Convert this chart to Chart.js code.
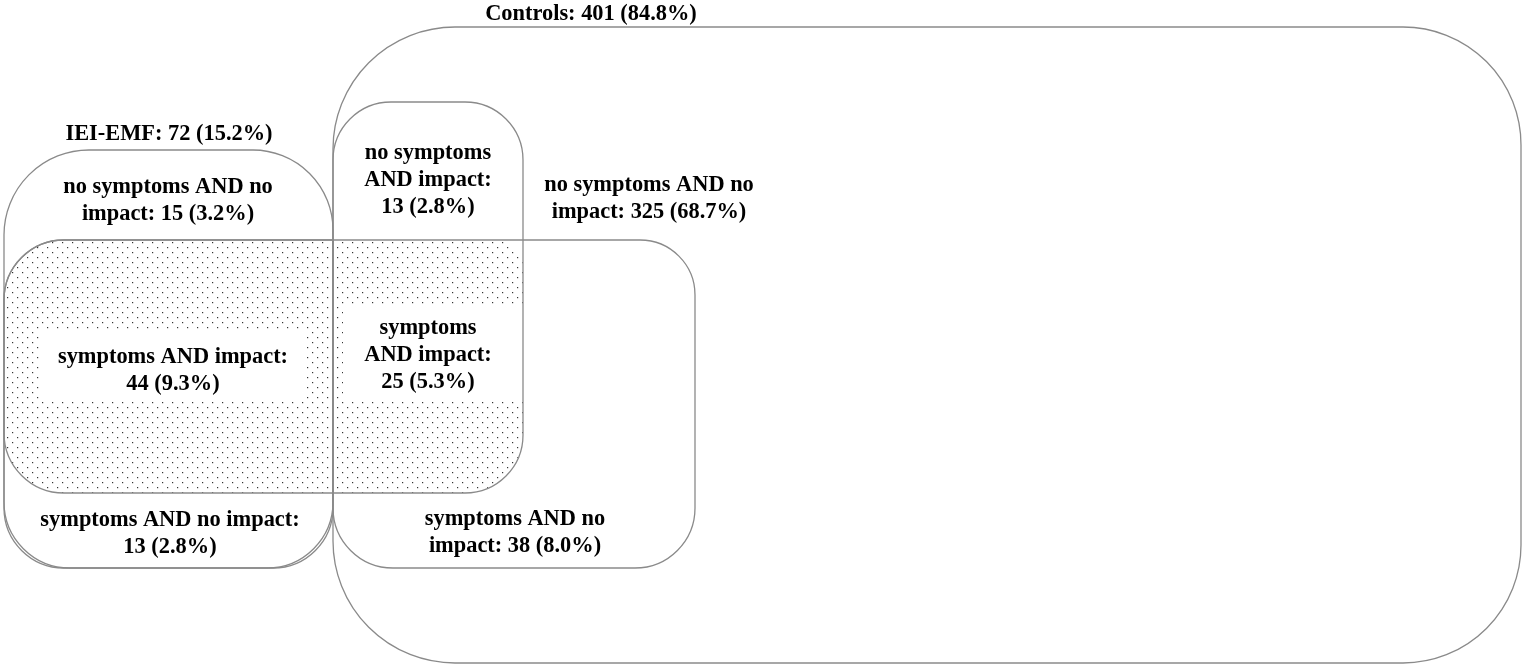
<!DOCTYPE html>
<html>
<head>
<meta charset="utf-8">
<script src="https://cdn.jsdelivr.net/npm/chart.js@4/dist/chart.umd.min.js"></script>
<style>
  html, body { margin: 0; background: #fff; }
  #wrap { width: 1524px; height: 667px; }
</style>
</head>
<body>
<div id="wrap"><canvas id="venn"></canvas></div>
<script>
// --- data ---
const groupNames = ["Controls", "IEI-EMF"];
const groupCounts = [401, 72];
const groupPcts = [84.8, 15.2];

// regions, in drawing order of their labels
const regionLines = [
  ["no symptoms AND no", "impact: {v}"],          // IEI-EMF
  ["no symptoms", "AND impact:", "{v}"],          // Controls
  ["no symptoms AND no", "impact: {v}"],          // Controls
  ["symptoms AND impact:", "{v}"],                // IEI-EMF
  ["symptoms", "AND impact:", "{v}"],             // Controls
  ["symptoms AND no impact:", "{v}"],             // IEI-EMF
  ["symptoms AND no", "impact: {v}"]              // Controls
];
const regionCounts = [15, 13, 325, 44, 25, 13, 38];
const regionPcts = [3.2, 2.8, 68.7, 9.3, 5.3, 2.8, 8.0];

// --- layout of the diagram (diagram units, mapped through the scales) ---
const groupAnchors = [{ x: 591, y: 14 }, { x: 169, y: 134 }];
const regionAnchors = [
  { x: 168, y: 201 }, { x: 428, y: 180 }, { x: 649, y: 199 },
  { x: 173, y: 371 }, { x: 428, y: 355 },
  { x: 170, y: 534 }, { x: 515, y: 533 }
];
// outlines: [x0, y0, x1, y1, corner radii tl, tr, br, bl]
const outlines = [
  [333, 27, 1521, 663, [122, 118, 118, 122]],   // Controls
  [4, 150, 333, 568, [85, 80, 66, 66]],         // IEI-EMF
  [333, 102, 523, 493, [58, 58, 58, 0]],        // impact (controls side)
  [4, 240, 333, 493, [60, 0, 0, 60]],           // impact (IEI side)
  [4, 240, 333, 568, [60, 0, 60, 60]],          // symptoms (IEI side)
  [333, 240, 695, 568, [0, 55, 60, 60]]         // symptoms (controls side)
];
const dotted = [4, 240, 523, 493, [60, 26, 60, 60]];
const clearBoxes = [[40, 330, 307, 402], [343, 305, 525, 400]];

const fmt = (n, p) => n + " (" + p.toFixed(1) + "%)";

function dotPattern(ctx) {
  const c = document.createElement("canvas");
  c.width = 10; c.height = 10;
  const g = c.getContext("2d");
  g.fillStyle = "#333";
  g.fillRect(2, 2, 1.2, 1.2);
  g.fillRect(7, 7, 1.2, 1.2);
  return ctx.createPattern(c, "repeat");
}

function boxPath(ctx, chart, b) {
  const x = chart.scales.x, y = chart.scales.y;
  const px0 = x.getPixelForValue(b[0]), py0 = y.getPixelForValue(b[1]);
  const px1 = x.getPixelForValue(b[2]), py1 = y.getPixelForValue(b[3]);
  const k = (x.getPixelForValue(100) - x.getPixelForValue(0)) / 100;
  ctx.beginPath();
  ctx.roundRect(px0, py0, px1 - px0, py1 - py0, (b[4] || [0]).map(r => r * k));
}

const vennPlugin = {
  id: "venn",
  beforeDatasetsDraw(chart) {
    const ctx = chart.ctx;
    ctx.save();
    boxPath(ctx, chart, dotted);
    ctx.fillStyle = dotPattern(ctx);
    ctx.fill();
    ctx.fillStyle = "#fff";
    clearBoxes.forEach(b => { boxPath(ctx, chart, b); ctx.fill(); });
    ctx.strokeStyle = "#8a8a8a";
    ctx.lineWidth = 1.3;
    outlines.forEach(b => { boxPath(ctx, chart, b); ctx.stroke(); });
    ctx.restore();
  },
  afterDatasetsDraw(chart) {
    const ctx = chart.ctx;
    const x = chart.scales.x, y = chart.scales.y;
    const lh = 27;
    const write = (lines, a) => {
      const cx = x.getPixelForValue(a.x), cy = y.getPixelForValue(a.y);
      lines.forEach((t, i) => {
        ctx.fillText(t, cx, cy + (i - (lines.length - 1) / 2) * lh);
      });
    };
    ctx.save();
    ctx.fillStyle = "#000";
    ctx.font = "bold 22.4px 'Liberation Serif', 'Times New Roman', serif";
    ctx.textAlign = "center";
    ctx.textBaseline = "middle";
    groupNames.forEach((g, i) => {
      write([g + ": " + fmt(groupCounts[i], groupPcts[i])], groupAnchors[i]);
    });
    regionLines.forEach((lines, i) => {
      const v = fmt(regionCounts[i], regionPcts[i]);
      write(lines.map(t => t.replace("{v}", v)), regionAnchors[i]);
    });
    ctx.restore();
  }
};

new Chart(document.getElementById("venn"), {
  type: "scatter",
  data: {
    datasets: [{ data: groupAnchors.concat(regionAnchors), pointRadius: 0, pointHoverRadius: 0 }]
  },
  options: {
    responsive: true,
    maintainAspectRatio: false,
    animation: false,
    events: [],
    layout: { padding: 0 },
    plugins: { legend: { display: false }, tooltip: { enabled: false } },
    scales: {
      x: { type: "linear", min: 0, max: 1524, display: false },
      y: { type: "linear", min: 0, max: 667, reverse: true, display: false }
    }
  },
  plugins: [vennPlugin]
});
</script>
</body>
</html>
